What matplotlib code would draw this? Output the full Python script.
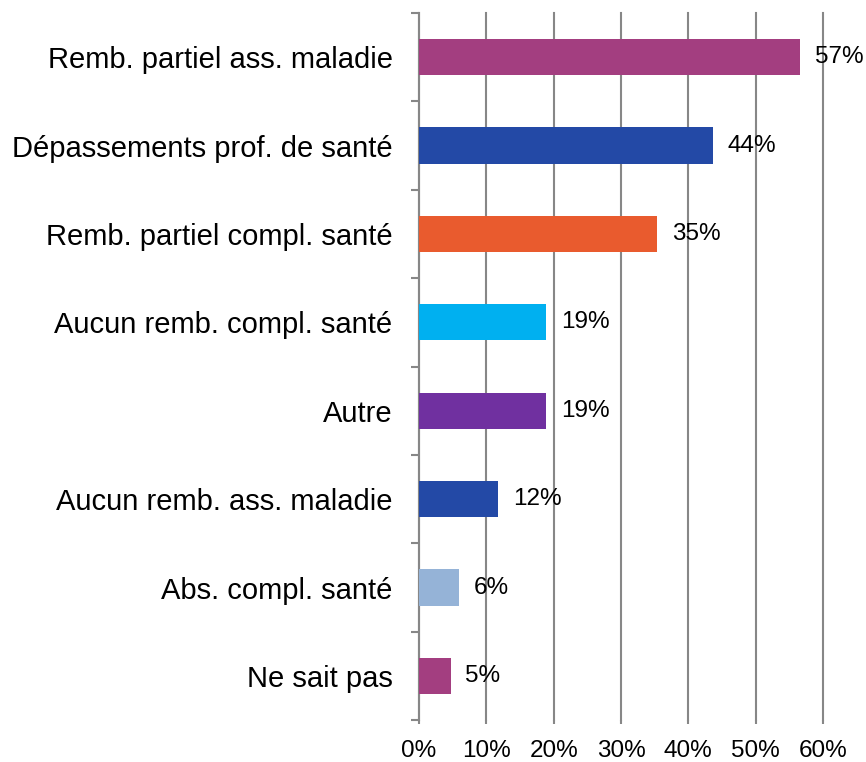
import matplotlib
matplotlib.use("Agg")
import matplotlib.pyplot as plt
from matplotlib.ticker import FuncFormatter, MultipleLocator
import numpy as np

# Categories top to bottom, with values in percent.
categories = [
    "Remb. partiel ass. maladie",
    "Dépassements prof. de santé",
    "Remb. partiel compl. santé",
    "Aucun remb. compl. santé",
    "Autre",
    "Aucun remb. ass. maladie",
    "Abs. compl. santé",
    "Ne sait pas",
]
values = [56.6, 43.6, 35.4, 18.9, 18.9, 11.8, 5.9, 4.7]
value_labels = ["57%", "44%", "35%", "19%", "19%", "12%", "6%", "5%"]
bar_colors = ["#A33E80", "#2349A6", "#E95B2E", "#00B0F0",
              "#7030A0", "#2349A6", "#95B3D7", "#A33E80"]

GRID = "#878787"

plt.rcParams["font.family"] = ["Liberation Sans", "DejaVu Sans"]

fig = plt.figure(figsize=(8.66, 7.62), dpi=100)
ax = fig.add_axes([0.4838, 0.055, 0.4665, 0.928])

y = np.arange(len(categories))
ax.barh(y, values, height=0.41, color=bar_colors, zorder=3)

for yi, v, lab in zip(y, values, value_labels):
    ax.text(v + 2.2, yi, lab, va="center", ha="left", fontsize=17.5, zorder=4)

ax.set_xlim(0, 60)
ax.set_ylim(len(categories) - 0.5, -0.5)
ax.xaxis.set_major_locator(MultipleLocator(10))
ax.xaxis.set_major_formatter(FuncFormatter(lambda v, _: f"{v:.0f}%"))
ax.grid(axis="x", color=GRID, linewidth=1.5, zorder=0)
for gl in ax.get_xgridlines():
    gl.set_clip_on(False)

ax.set_yticks(y)
ax.set_yticklabels(categories, fontsize=21)
ax.set_yticks(np.arange(-0.5, len(categories)), minor=True)
ax.tick_params(axis="y", which="major", length=0, pad=19)
ax.tick_params(axis="y", which="minor", length=6, width=1.5, color=GRID)
ax.tick_params(axis="x", length=3, width=1.5, color=GRID, labelsize=17.5, pad=11)

for side in ["top", "right", "bottom"]:
    ax.spines[side].set_visible(False)
ax.spines["left"].set_color(GRID)
ax.spines["left"].set_linewidth(1.5)

fig.savefig("out.png", dpi=100)
